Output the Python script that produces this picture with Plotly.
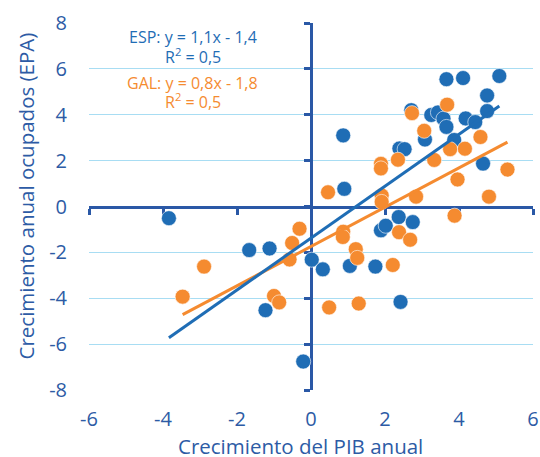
import numpy as np
import plotly.graph_objects as go

# ESP: (GDP growth, employment growth)
esp_x = [-3.84, -1.67, -1.12, -1.23, -0.21, 0.02, 0.32, 0.87, 0.90, 1.05, 1.74, 1.89, 2.02,
         2.37, 2.42, 2.75, 2.39, 2.53, 2.71, 3.08, 3.25, 3.43, 3.58, 3.66, 3.66, 3.87, 4.11,
         4.18, 4.44, 4.65, 4.76, 4.76, 5.09]
esp_y = [-0.51, -1.90, -1.83, -4.52, -6.76, -2.32, -2.74, 3.10, 0.77, -2.59, -2.62, -1.04, -0.84,
         -0.46, -4.16, -0.68, 2.53, 2.50, 4.20, 2.92, 3.99, 4.10, 3.83, 3.47, 5.55, 2.90, 5.60,
         3.84, 3.68, 1.87, 4.84, 4.16, 5.69]

gal_x = [-3.47, -2.89, -1.00, -0.86, -0.51, -0.31, -0.58, 0.46, 0.49, 0.87, 0.86, 1.21, 1.25,
         1.29, 1.89, 1.89, 1.91, 1.91, 2.35, 2.21, 2.38, 2.68, 2.73, 2.84, 3.06, 3.33, 3.68,
         3.76, 3.88, 3.96, 4.16, 4.58, 4.81, 5.31]
gal_y = [-3.93, -2.62, -3.90, -4.18, -1.59, -0.97, -2.31, 0.62, -4.40, -1.10, -1.33, -1.86, -2.24,
         -4.23, 1.86, 1.66, 0.48, 0.20, 2.04, -2.55, -1.12, -1.45, 4.07, 0.43, 3.30, 2.03, 4.44,
         2.50, -0.40, 1.18, 2.52, 3.03, 0.43, 1.61]

x_ticks = [-6, -4, -2, 0, 2, 4, 6]
y_ticks = [-8, -6, -4, -2, 0, 2, 4, 6, 8]
x_ticktext = [str(v) for v in x_ticks]
y_ticktext = [str(v) for v in y_ticks]

BLUE = "#1F6DB5"
ORANGE = "#F58B30"
AXIS = "#2A58A6"
TXT = "#2D5BA5"
GRID = "#A8DDF3"
FONT = "Open Sans"

ML, MR, MT, MB = 88.5, 6.5, 23.3, 67
W, H = 540, 457
PW, PH = W - ML - MR, H - MT - MB


def trend(xs, ys):
    xs = np.array(xs)
    ys = np.array(ys)
    m, b = np.polyfit(xs, ys, 1)
    lx = np.array([xs.min(), xs.max()])
    return lx, m * lx + b


def px_to_paper(px, py):
    return (px - ML) / PW, 1 - (py - MT) / PH


fig = go.Figure()
fig.add_trace(go.Scatter(x=esp_x, y=esp_y, mode="markers",
                         marker=dict(size=15, color=BLUE, line=dict(color="white", width=0.6))))
fig.add_trace(go.Scatter(x=gal_x, y=gal_y, mode="markers",
                         marker=dict(size=15, color=ORANGE, line=dict(color="white", width=0.6))))
gx, gy = trend(gal_x, gal_y)
fig.add_trace(go.Scatter(x=gx, y=gy, mode="lines", line=dict(color=ORANGE, width=3)))
ex, ey = trend(esp_x, esp_y)
fig.add_trace(go.Scatter(x=ex, y=ey, mode="lines", line=dict(color=BLUE, width=3)))
# empty traces to realise the crossing axes
fig.add_trace(go.Scatter(x=[], y=[], xaxis="x2", yaxis="y", showlegend=False))
fig.add_trace(go.Scatter(x=[], y=[], xaxis="x", yaxis="y2", showlegend=False))

tickfont = dict(family=FONT, size=20, color=TXT)
xt_x, xt_y = px_to_paper(300, 446)
yt_x, yt_y = px_to_paper(25, 196)
ann_font_b = dict(family=FONT, size=16, color=BLUE)
ann_font_o = dict(family=FONT, size=16, color=ORANGE)
fig.update_layout(
    width=W, height=H,
    margin=dict(l=ML, r=MR, t=MT, b=MB, autoexpand=False),
    plot_bgcolor="white", paper_bgcolor="white",
    showlegend=False,
    font=dict(family=FONT, color=TXT),
    xaxis=dict(range=[-6, 6], tickvals=x_ticks, ticktext=x_ticktext, showgrid=False,
               zeroline=False, showline=False, ticks="outside", ticklen=11,
               tickcolor="rgba(0,0,0,0)", tickfont=tickfont, automargin=False),
    yaxis=dict(range=[-8, 8], tickvals=y_ticks, ticktext=y_ticktext, showgrid=True,
               gridcolor=GRID, gridwidth=1, zeroline=False, showline=False,
               ticks="outside", ticklen=17, tickcolor="rgba(0,0,0,0)", tickfont=tickfont,
               automargin=False),
    xaxis2=dict(overlaying="x", anchor="free", position=0.5, range=[-6, 6], tickvals=x_ticks,
                showticklabels=False, showgrid=False, zeroline=False, showline=True,
                linecolor=AXIS, linewidth=3, ticks="outside", ticklen=6, tickwidth=3,
                tickcolor=AXIS, layer="below traces", automargin=False),
    yaxis2=dict(overlaying="y", anchor="free", position=0.5, side="left", range=[-8, 8],
                tickvals=y_ticks, showticklabels=False, showgrid=False, zeroline=False,
                showline=True, linecolor=AXIS, linewidth=3, ticks="outside", ticklen=6,
                tickwidth=3, tickcolor=AXIS, layer="below traces", automargin=False),
    annotations=[
        dict(x=-3.2, y=7.41, xref="x", yref="y", text="ESP: y = 1,1x - 1,4", showarrow=False,
             font=ann_font_b),
        dict(x=-3.2, y=6.54, xref="x", yref="y", text="R<sup>2</sup> = 0,5", showarrow=False,
             font=ann_font_b),
        dict(x=-3.2, y=5.40, xref="x", yref="y", text="GAL: y = 0,8x - 1,8", showarrow=False,
             font=ann_font_o),
        dict(x=-3.2, y=4.62, xref="x", yref="y", text="R<sup>2</sup> = 0,5", showarrow=False,
             font=ann_font_o),
        dict(x=xt_x, y=xt_y, xref="paper", yref="paper", text="Crecimiento del PIB anual",
             xanchor="center", yanchor="middle", showarrow=False,
             font=dict(family=FONT, size=20.5, color=TXT)),
        dict(x=yt_x, y=yt_y, xref="paper", yref="paper", text="Crecimiento anual ocupados (EPA)",
             xanchor="center", yanchor="middle", showarrow=False, textangle=-90,
             font=dict(family=FONT, size=20.5, color=TXT)),
    ],
)

fig.write_html("out.html")
